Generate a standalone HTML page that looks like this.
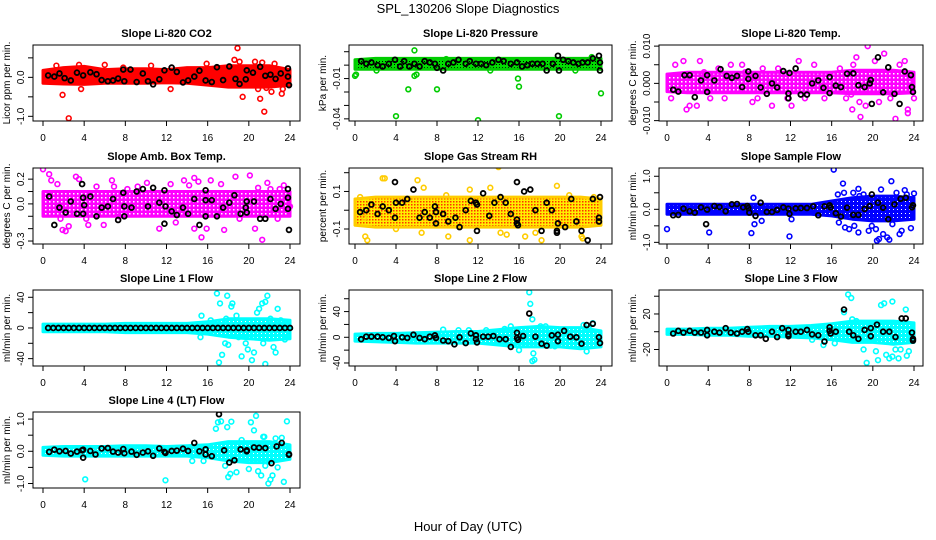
<!DOCTYPE html>
<html><head><meta charset="utf-8">
<style>
html,body{margin:0;padding:0;background:#fff;}
svg{display:block;font-family:"Liberation Sans",Arial,sans-serif;}
</style></head>
<body>
<svg id="chart" width="936" height="540" viewBox="0 0 936 540">
<defs>
<pattern id="rhpat" width="3" height="3" patternUnits="userSpaceOnUse">
<rect width="3" height="3" fill="#ffee00"/><rect x="0" y="0" width="1.5" height="1.5" fill="#ff3300"/>
</pattern>
<pattern id="prpat" width="3" height="3" patternUnits="userSpaceOnUse">
<rect width="3" height="3" fill="#00dd00"/><rect x="1" y="1" width="1" height="1" fill="#000"/>
</pattern>
<pattern id="mgpat" width="4" height="4" patternUnits="userSpaceOnUse">
<rect width="4" height="4" fill="#ff00ff"/><rect x="1" y="1" width="1.5" height="1.5" fill="#fff"/>
</pattern>
<pattern id="blpat" width="4" height="4" patternUnits="userSpaceOnUse">
<rect width="4" height="4" fill="#0000ff"/><rect x="1" y="1" width="1" height="1" fill="#fff"/>
</pattern>
<pattern id="cypat" width="4" height="4" patternUnits="userSpaceOnUse">
<rect width="4" height="4" fill="#00ffff"/><rect x="1" y="1" width="1" height="1" fill="#fff"/>
</pattern>
</defs>
<text x="468" y="13" text-anchor="middle" font-size="13">SPL_130206  Slope Diagnostics</text>
<text x="468" y="531" text-anchor="middle" font-size="13">Hour of Day (UTC)</text>
</svg>
<script>
// ---- shared axis data ----
const hourTicks = [0,4,8,12,16,20,24];
const bandHours = [0,2,4,6,8,10,12,14,16,18,20,22,24];

// ---- Panel 1: CO2 ----
const co2BandLo = [-0.15,-0.17,-0.18,-0.15,-0.15,-0.15,-0.14,-0.15,-0.2,-0.25,-0.25,-0.25,-0.2];
const co2BandHi = [0.18,0.25,0.28,0.2,0.22,0.22,0.2,0.25,0.25,0.3,0.3,0.3,0.2];
const co2OutT = [1.9,2.5,3.7,6,7.8,12.4,15.9,18.9,18.6,19.1,19.4,20.9,21.1,21.5,21.7,22.2,22.5,23.2,23.3,21.3,20.6,1.3,3.5,10.5];
const co2OutV = [-0.45,-1.05,-0.3,0.32,0.25,-0.3,0.35,0.75,0.45,0.4,-0.5,-0.3,-0.55,-0.88,-0.27,-0.37,0.35,-0.42,-0.3,0.38,0.4,0.3,0.32,0.3];
const co2BlkT = [0.5,1.1,1.6,2.1,2.7,3.3,3.9,4.6,5.2,5.7,6.3,6.8,7.3,7.8,7.9,8.5,9.1,9.7,10.2,10.7,11.3,11.8,12.5,13,13.6,14.1,14.7,15.2,15.8,16.4,16.9,17.5,18.1,18.7,19.1,19.7,19.8,20.4,21.1,21.6,22.1,22.6,23.1,23.8,23.9,23.8];
const co2BlkV = [0.05,0.02,0.1,-0.02,-0.08,0.12,0.05,0.13,0.08,-0.07,-0.1,-0.08,-0.03,0.2,-0.1,0.2,-0.12,0.1,-0.1,-0.18,-0.05,0.18,0.25,0.14,-0.13,-0.08,0.02,0.17,-0.08,-0.12,0.26,-0.07,0.28,-0.04,-0.17,-0.05,0.18,0.12,0.27,0.04,0.07,-0.04,0.1,0.23,-0.2,0.02];
const co2Ticks = [-1.0,-0.5,0.0,0.5];
const co2Labels = ["-1.0","","0.0",""];

// ---- Panel 2: Pressure ----
const prBandLo = [-0.003,-0.003,-0.003,-0.003,-0.003,-0.003,-0.003,-0.003,-0.003,-0.003,-0.003,-0.003,-0.003];
const prBandHi = [0.004,0.005,0.005,0.005,0.005,0.005,0.005,0.005,0.005,0.005,0.005,0.005,0.005];
const prOutT = [0,0.1,4,5.2,5.8,5.8,6,8,8.9,12,15.9,16,19.9,23.1,24,2.1,13.2,21.5];
const prOutV = [-0.008,-0.007,-0.038,-0.018,0.011,-0.008,-0.007,-0.018,0.0045,-0.041,-0.01,-0.016,-0.038,0.006,-0.021,-0.004,-0.004,-0.004];
const prBlkT = [0.6,1.1,1.6,2.2,2.7,3.3,3.9,4.4,4.8,5.3,5.8,6.3,6.8,7.3,7.8,8.0,8.6,9.1,9.6,10.1,10.8,11.2,11.8,12.3,12.8,13.4,14,14.5,15.2,15.8,16.3,16.8,17.3,17.8,18.3,18.7,19.3,19.8,19.9,20.3,20.8,21.3,21.8,22.2,22.7,23.2,23.8,23.9,23.9];
const prBlkV = [0.003,0.001,0.002,0,-0.001,0.001,0.004,-0.001,0.003,-0.001,0.001,-0.001,0.003,0.002,0.001,-0.002,-0.004,0.001,0.002,0.004,0.001,0.003,0.001,0.001,0,0.002,0.004,0.003,0.001,0.002,-0.001,0,0.001,0.001,0.001,-0.004,0.001,0.007,-0.004,0.004,0.003,0.002,0.001,0.002,0.002,0.005,0.007,0.002,-0.004];
const prTicks = [-0.04,-0.03,-0.02,-0.01,0.0,0.01];
const prLabels = ["-0.04","","","-0.01","",""];

// ---- Panel 3: Li-820 Temp ----
const tmBandLo = [-0.0022,-0.0025,-0.0025,-0.0025,-0.0025,-0.0025,-0.0025,-0.0025,-0.0025,-0.0028,-0.0028,-0.0028,-0.0025];
const tmBandHi = [0.0025,0.003,0.003,0.003,0.003,0.003,0.003,0.003,0.003,0.0035,0.0035,0.0035,0.003];
const tmOutT = [0.4,0.8,1.6,2.2,1.9,2.9,3.2,3.6,4.2,5,5.6,6.2,7.3,7.6,8.3,8.8,9.3,10.2,10.8,11.7,12.1,12.8,13.4,14.3,15.3,16.8,17.4,18.1,18,18.4,18.7,18.8,19.5,19.3,20.2,21.1,21.7,22.2,22.6,23.1,23.4,23.4,24,20.6,17.9];
const tmOutV = [-0.004,0.005,0.006,-0.006,-0.007,-0.006,0.006,0.003,-0.004,0.004,-0.004,0.005,0.005,0.003,-0.005,-0.004,0.004,-0.006,0.004,-0.004,-0.006,0.006,-0.004,0.005,-0.004,0.004,-0.004,0.005,-0.007,0.007,-0.005,-0.009,0.010,-0.006,0.006,0.008,-0.004,-0.0095,0.005,0.006,-0.007,-0.008,-0.004,-0.005,-0.003];
const tmBlkT = [0.6,1.1,1.7,2.2,2.7,3.3,3.9,3.9,4.6,5.2,5.8,6.3,6.8,7.3,7.9,7.9,8.6,9.1,9.7,10.2,10.7,11.3,11.8,11.8,11.9,12.5,13,13.6,14.1,14.7,15.2,15.8,15.8,16.4,16.9,17.5,18.1,18.6,19.2,19.7,19.8,19.9,20.5,21,21.5,22.1,22.6,23.1,23.7,23.8,23.9];
const tmBlkV = [-0.0017,-0.0022,0.0022,0.0022,-0.0037,0.0008,0.0022,-0.0023,0.0008,0.0038,0.002,0.0015,0.002,-0.001,0.0032,0.0012,0.002,-0.0011,-0.0028,0,-0.0011,0.0033,-0.0027,-0.004,0.0028,0.004,-0.003,-0.003,0,0.0008,-0.0012,0.0017,-0.0026,-0.0006,-0.001,0.0026,0.0027,-0.0005,-0.001,0,0.0009,-0.0055,0.007,-0.0024,0.0043,-0.0028,-0.0055,0.0032,0.0022,-0.001,-0.0023];
const tmTicks = [-0.010,-0.005,0.000,0.005,0.010];
const tmLabels = ["-0.010","","0.000","","0.010"];

// ---- Panel 4: Amb Box Temp ----
const abBandLo = [-0.1,-0.1,-0.1,-0.1,-0.1,-0.1,-0.1,-0.1,-0.1,-0.1,-0.1,-0.1,-0.1];
const abBandHi = [0.1,0.1,0.1,0.1,0.1,0.1,0.1,0.1,0.1,0.1,0.1,0.1,0.1];
const abOutT = [0,0.6,0.8,1.4,1.7,1.9,2.2,2.5,3.2,3.5,4.2,4.4,5.2,5.9,6.7,6.9,7.4,8.2,9.2,10.1,11.3,12.9,13.7,14.2,14.7,14.7,15.1,15.4,15.9,16.3,17.3,17.6,18.7,19.1,20.1,20.6,20.9,21.3,21.8,22.1,23,23.4,24,22.8,12.4];
const abOutV = [0.28,0.24,0.19,0.16,-0.12,-0.21,-0.22,-0.18,0.22,0.2,-0.12,-0.17,0.14,-0.17,0.19,0.14,-0.1,0.12,0.14,0.17,-0.2,-0.15,0.19,0.15,0.21,-0.2,0.18,-0.27,-0.2,0.19,0.16,-0.21,0.22,-0.12,0.23,-0.2,0.13,-0.29,0.17,0.12,0.12,0.15,-0.02,-0.12,0.16];
const abBlkT = [0.6,1.1,1.6,2.2,2.7,3.3,3.8,3.9,3.9,4,4.6,5.2,5.7,6.3,6.8,7.3,7.8,7.9,7.9,8.6,9.1,9.7,10.2,10.7,11.3,11.8,11.8,11.9,12.5,13,13.6,14.1,14.7,15.2,15.8,15.8,15.8,16.4,16.9,17.5,18.1,18.6,19.2,19.7,19.8,19.8,20.5,21.1,21.6,22.1,22.6,23.1,23.8,23.8,23.8,23.9];
const abBlkV = [0.06,-0.17,-0.03,-0.07,0.02,-0.08,0.16,-0.08,0.05,-0.01,0.06,-0.1,-0.03,-0.02,0.04,-0.13,0.09,-0.02,-0.1,-0.03,0.1,0.12,-0.02,0.13,0.01,0.11,-0.16,-0.02,-0.06,-0.09,-0.03,-0.08,0.04,-0.17,0.11,0.03,-0.1,0.03,-0.1,-0.03,0.01,0.07,-0.08,-0.03,0.02,-0.07,0.02,-0.12,-0.12,0.04,-0.04,0,0.12,0.05,-0.04,-0.21];
const abTicks = [-0.3,-0.2,-0.1,0.0,0.1,0.2];
const abLabels = ["-0.3","","","0.0","","0.2"];

// ---- Panel 5: Gas Stream RH ----
const rhBandLo = [-0.08,-0.09,-0.09,-0.09,-0.09,-0.09,-0.09,-0.09,-0.09,-0.09,-0.09,-0.09,-0.08];
const rhBandHi = [0.06,0.07,0.07,0.07,0.07,0.07,0.07,0.07,0.07,0.07,0.07,0.07,0.06];
const rhOutT = [0.5,0.9,1.0,1.2,2.7,2.9,4,6.1,6.5,6.7,8.9,9.1,11.2,11.2,13.2,14,14.2,14.8,16.6,17.6,18.2,19.7,20.9,22.1,22.2,23.3];
const rhOutV = [0.07,-0.04,-0.14,-0.16,0.17,0.17,-0.1,0.16,-0.12,0.12,0.08,-0.14,0.11,-0.16,0.12,0.23,-0.12,-0.13,-0.14,-0.12,-0.16,0.13,0.08,-0.14,-0.15,0.07];
const rhBlkT = [0.5,1.1,1.6,2.2,2.7,3.3,3.9,3.9,4,4.6,5.1,5.7,6.3,6.8,7.3,7.8,7.9,7.9,8.6,9.1,9.8,10.2,10.8,11.3,11.8,11.9,11.9,12.5,13.1,13.6,14.2,14.7,15.2,15.8,15.8,15.8,15.9,16.5,17.1,17.6,18.2,18.7,19.2,19.7,19.8,19.7,20.5,21.1,21.6,22.1,22.7,23.2,23.8,23.8,23.9];
const rhBlkV = [-0.01,0,0.03,-0.02,0.02,0,0.15,-0.04,0.04,0.04,0.06,0.11,-0.04,-0.01,-0.04,0.02,-0.07,-0.01,-0.02,-0.06,-0.04,-0.09,0,0.05,0.04,0.03,-0.11,0.09,-0.03,0.04,0.07,0.04,-0.02,0.15,-0.05,-0.07,-0.08,0.1,0.11,0,-0.11,0.04,0,-0.11,-0.07,-0.12,-0.09,0.06,-0.06,-0.11,-0.16,0.06,-0.04,-0.06,0.07];
const rhTicks = [-0.1,0.0,0.1,0.2];
const rhLabels = ["-0.1","","0.1",""];

// ---- Panel 6: Sample Flow ----
const sfBandLo = [-0.15,-0.15,-0.15,-0.15,-0.15,-0.15,-0.15,-0.15,-0.2,-0.3,-0.35,-0.35,-0.3];
const sfBandHi = [0.15,0.15,0.15,0.15,0.15,0.15,0.15,0.15,0.25,0.35,0.4,0.4,0.35];
const sfOutT = [0,4.1,8.2,8.4,8.5,9.2,11.9,12.1,16.2,16.6,16.7,17.1,17.2,17.3,17.7,18.1,18.2,18.6,18.7,18.6,19.6,19.9,20,20.3,20.4,20.6,20.8,21,21.4,21.6,21.8,21.9,22.3,22.6,22.8,23.1,23.3,23.7,24,19.1];
const sfOutV = [-0.6,-0.7,-0.72,0.35,-0.45,-0.35,-0.82,-0.3,1.2,0.45,-0.4,0.78,0.5,-0.55,-0.6,0.5,-0.5,0.62,0.4,-0.7,-0.65,-0.5,-0.3,-0.6,-0.95,-0.9,0.6,-0.75,-0.85,-0.92,0.85,-0.45,0.5,-0.75,-0.65,0.58,0.45,-0.57,0.48,0.45];
const sfBlkT = [0.6,1.1,1.6,2.2,2.7,3.3,3.8,3.9,4.6,5.1,5.7,6.3,6.8,7.4,7.8,7.9,8,8.6,9.1,9.7,10.2,10.7,11.3,11.8,11.9,12.5,13,13.6,14.2,14.7,15.3,15.8,15.9,16.4,16.9,17.5,18.1,18.6,19.2,19.7,19.9,20.5,21,21.5,22.1,22.7,23.2,23.8,23.9];
const sfBlkV = [-0.18,-0.17,0.02,-0.06,-0.1,0.06,-0.45,-0.01,0.1,0.07,-0.06,0.15,0.16,0.06,0.1,0.04,-0.1,-0.2,0.2,-0.08,-0.08,-0.02,0.06,0.02,-0.14,0.03,0.04,0.04,0.09,-0.18,0.09,0.12,0.06,-0.12,-0.22,0.05,-0.17,-0.17,0.01,0.1,0.45,0.2,0.05,-0.3,0.15,0.32,0.35,0.06,0.12];
const sfTicks = [-1.0,-0.5,0.0,0.5,1.0];
const sfLabels = ["-1.0","","0.0","","1.0"];

// ---- Panel 7: Line 1 Flow ----
const l1BandLo = [-5,-5,-5,-5,-6,-6,-6,-6,-8,-12,-14,-16,-14];
const l1BandHi = [5,5,5,5,6,6,6,6,8,12,12,12,10];
const l1OutT = [15.3,15.4,16.3,16.9,17.1,17.2,17.4,17.7,17.8,17.9,18,18.3,18.4,18.8,19,19.3,19.7,19.9,20.3,20.5,20.8,21,21.3,21.4,21.6,21.6,21.8,22.1,22.4,22.6,22.8,23.1,23.3,23.5,23.7,22.9];
const l1OutV = [-12,16,10,45,-45,32,-35,-20,12,42,-22,28,32,16,-12,-37,-20,-28,-42,-32,20,25,32,-20,34,-47,42,12,-25,-32,25,10,8,-15,-12,5];
const l1BlkT = [0.5,1,1.5,2,2.5,3,3.5,4,4.5,5,5.5,6,6.5,7,7.5,8,8.5,9,9.5,10,10.5,11,11.5,12,12.5,13,13.5,14,14.5,15,15.5,16,16.5,17,17.5,18,18.5,19,19.5,20,20.5,21,21.5,22,22.5,23,23.5,24];
const l1BlkV = [0,0,0,0,0,0,0,0,0,0,0,0,0,0,0,0,0,0,0,0,0,0,0,0,0,0,0,0,0,0,0,0,0,0,0,0,0,0,0,0,0,0,0,0,0,0,0,0];
const l1Ticks = [-40,-20,0,20,40];
const l1Labels = ["-40","","0","","40"];

// ---- Panel 8: Line 2 Flow ----
const l2BandLo = [-6,-7,-8,-9,-9,-9,-9,-12,-15,-15,-15,-18,-15];
const l2BandHi = [5,6,6,7,8,9,9,12,15,17,15,15,10];
const l2OutT = [17,17.1,17.3,17.4,17.3,17.5,15.2,14.6,18.1,18.6,19.1,19.5,22.3,22.8,23.2,8.6,10.1,11.1,12.8,16,22.6];
const l2OutV = [70,52,28,-25,-37,-35,17,13,17,17,-13,-14,19,14,22,12,11,11,11,-20,-22];
const l2BlkT = [0.6,1.1,1.6,2.2,2.7,3.3,3.8,3.9,4.6,5.1,5.7,6.3,6.8,7.3,7.8,7.9,8.6,9.1,9.7,10.2,10.8,11.3,11.8,11.8,11.9,12.5,13,13.5,14.1,14.7,15.2,15.8,15.8,15.9,16.4,17,17.6,18.2,18.7,19.2,19.8,19.8,20.4,21,21.6,22.1,22.6,23.2,23.8,23.9];
const l2BlkV = [-3,1,1,1,0,-1,2,-6,0,-1,4,-1,-3,1,3,-1,-5,-6,-11,0,-9,6,3,-3,-8,1,1,2,-3,-3,-15,7,-1,-4,2,37,1,-10,-13,3,4,-6,10,1,0,-10,19,21,0,-9];
const l2Ticks = [-40,-20,0,20,40,60];
const l2Labels = ["-40","","0","","40",""];

// ---- Panel 9: Line 3 Flow ----
const l3BandLo = [-3,-3,-4,-4,-5,-5,-6,-7,-9,-12,-12,-14,-12];
const l3BandHi = [3,3,4,4,5,6,6,7,9,12,12,12,10];
const l3OutT = [17.6,17.9,18,18.2,18.4,19.1,19.4,20.3,20.5,20.8,21.1,21.3,21.6,21.9,21.9,22.2,22.5,22.7,23.2,23.3,23.5,16.3,16.6,14.1,15.2,23.8,17.2];
const l3OutV = [42,38,14,-9,12,-20,-35,-22,-32,30,32,-26,-30,34,-28,-20,-30,-20,25,-27,-22,-13,-8,-9,-15,-8,22];
const l3BlkT = [0.6,1.1,1.6,2.2,2.7,3.3,3.9,3.9,4.6,5.1,5.7,6.2,6.8,7.3,7.8,7.9,8.6,9.1,9.6,10.2,10.7,11.2,11.8,11.8,11.8,12.5,13,13.6,14.1,14.7,15.3,15.8,15.8,15.9,16.4,17.2,17.7,18.1,18.6,19.2,19.8,19.8,20.4,21,21.6,22.2,22.8,23.2,23.8,23.9,23.9];
const l3BlkV = [-2,1,-1,1,-1,-1,2,-4,0,-1,4,-1,-2,0,3,0,-4,-4,-8,0,-6,4,2,-3,-5,0,0,2,-3,-4,-11,5,1,-2,0,25,0,-4,-8,2,4,-5,8,0,0,-6,15,15,-1,-8,-10];
const l3Ticks = [-20,0,20,40];
const l3Labels = ["-20","","20",""];

// ---- Panel 10: Line 4 (LT) Flow ----
const l4BandLo = [-0.12,-0.15,-0.15,-0.15,-0.15,-0.15,-0.15,-0.15,-0.2,-0.3,-0.35,-0.35,-0.25];
const l4BandHi = [0.12,0.15,0.15,0.15,0.17,0.17,0.15,0.17,0.2,0.3,0.3,0.3,0.2];
const l4OutT = [4.1,11.9,14.5,15.6,16.8,17,17.3,17.7,17.9,18,18.2,18.3,18.8,19.3,20,20.2,20.5,20.7,20.9,21.2,21.4,21.6,21.9,22.1,22.3,22.6,22.8,23.2,23.4,23.7,21.5];
const l4OutV = [-0.87,-0.9,-0.3,-0.3,0.7,0.9,0.93,-0.45,0.75,-0.8,-0.7,0.92,-0.65,0.35,-0.55,0.9,0.65,1.1,-0.62,-0.75,0.45,-0.45,-1.0,-0.88,-0.75,0.4,-0.5,0.42,-0.95,0.93,0.45];
const l4BlkT = [0.6,1.1,1.6,2.2,2.7,3.3,3.8,3.9,3.9,4.6,5.1,5.7,6.3,6.8,7.3,7.8,7.9,8.6,9.1,9.7,10.2,10.7,11.3,11.8,11.9,12.5,13,13.6,14.1,14.7,15.2,15.8,15.8,16.4,17.1,17.6,18.1,18.6,19.2,19.8,19.8,20.5,21,21.6,22.2,22.7,23.2,23.9,23.9];
const l4BlkV = [-0.02,0.05,0,0.01,-0.07,-0.01,0.03,-0.2,0.05,0.01,-0.1,0.09,0.1,-0.01,-0.04,0.07,-0.06,-0.01,-0.11,-0.04,0,-0.14,0.09,-0.02,-0.05,0.01,0.02,0.08,0.01,0.26,0,-0.1,0.06,-0.15,1.15,0.03,-0.35,-0.28,0.06,0,0.03,0.12,0.11,0.1,-0.37,0.15,0.26,-0.09,-0.11];
const l4Ticks = [-1.0,-0.5,0.0,0.5,1.0];
const l4Labels = ["-1.0","","0.0","","1.0"];

const NS = "http://www.w3.org/2000/svg";
const svg = document.getElementById('chart');
function mk(tag, attrs, parent){
  const e = document.createElementNS(NS, tag);
  for (const k in attrs) e.setAttribute(k, attrs[k]);
  (parent||svg).appendChild(e);
  return e;
}

const cols = [[43,290,33,300],[355,601,349,612],[667,914,659,923]];
const rowTop = [45,168,290,412];
const boxH = 76;

function panel(cfg){
  const c = cols[cfg.col], top = rowTop[cfg.row], bot = top + boxH;
  const g = mk('g', {});
  
  
  const xs = h => c[0] + (c[1]-c[0]) * h / 24;
  const ys = v => bot - (v - cfg.ymin) / (cfg.ymax - cfg.ymin) * boxH;
  const clip = 'clip-' + cfg.name;
  const cp = mk('clipPath', {id: clip}, g);
  mk('rect', {x:c[2], y:top, width:c[3]-c[2], height:boxH}, cp);
  const plot = mk('g', {'clip-path':'url(#'+clip+')'}, g);
  
  
  let pts = [];
  for (let i=0;i<bandHours.length;i++) pts.push(xs(bandHours[i]).toFixed(1)+','+ys(cfg.hi[i]).toFixed(1));
  for (let i=bandHours.length-1;i>=0;i--) pts.push(xs(bandHours[i]).toFixed(1)+','+ys(cfg.lo[i]).toFixed(1));
  const band = mk('polygon', {points: pts.join(' '), fill: cfg.fill, stroke: cfg.color, 'stroke-width': 3, 'stroke-linejoin':'round'}, plot);
  
  
  for (let i=0;i<cfg.ot.length;i++){
    const p = mk('circle', {cx: xs(cfg.ot[i]), cy: ys(cfg.ov[i]), r: 2.4, fill:'none', stroke: cfg.color, 'stroke-width': 1.6}, plot);
    
    
  }
  for (let i=0;i<cfg.bt.length;i++){
    const p = mk('circle', {cx: xs(cfg.bt[i]), cy: ys(cfg.bv[i]), r: 2.4, fill:'none', stroke: '#000', 'stroke-width': 1.8}, plot);
    
    
  }
  const box = mk('rect', {x:c[2], y:top, width:c[3]-c[2], height:boxH, fill:'none', stroke:'#000', 'stroke-width':1}, g);
  
  
  const xa = mk('g', {}, g);
  
  
  mk('line', {x1:xs(0), x2:xs(24), y1:bot, y2:bot, stroke:'#000'}, xa);
  hourTicks.forEach(h => {
    mk('line', {x1:xs(h), x2:xs(h), y1:bot, y2:bot+5, stroke:'#000'}, xa);
    const t = mk('text', {x:xs(h), y:bot+20, 'text-anchor':'middle', 'font-size':10}, xa);
    t.textContent = h;
    
    
  });
  const ya = mk('g', {}, g);
  
  
  const y0 = ys(cfg.ticks[0]), y1 = ys(cfg.ticks[cfg.ticks.length-1]);
  mk('line', {x1:c[2], x2:c[2], y1:y0, y2:y1, stroke:'#000'}, ya);
  cfg.ticks.forEach((v,i) => {
    const yy = ys(v);
    mk('line', {x1:c[2]-5, x2:c[2], y1:yy, y2:yy, stroke:'#000'}, ya);
    if (cfg.labels[i]) {
      const lx = c[2]-9;
      const t = mk('text', {x:lx, y:yy, 'text-anchor':'middle', 'font-size':10, transform:'rotate(-90 '+lx+' '+yy+')'}, ya);
      t.textContent = cfg.labels[i];
      
      
    }
  });
  const tx = c[2]-23, ty = top + boxH/2;
  const yt = mk('text', {x:tx, y:ty, 'text-anchor':'middle', 'font-size':10, transform:'rotate(-90 '+tx+' '+ty+')'}, g);
  yt.textContent = cfg.ylab;
  
  
  const tt = mk('text', {x:(c[2]+c[3])/2, y:top-8, 'text-anchor':'middle', 'font-size':11, 'font-weight':'bold'}, g);
  tt.textContent = cfg.title;
  
  
}

panel({name:'panel-co2', row:0, col:0, ymin:-1.12, ymax:0.83, title:'Slope Li-820 CO2', ylab:'Licor ppm per min.', color:'#ff0000', fill:'#ff0000', lo:co2BandLo, hi:co2BandHi, ot:co2OutT, ov:co2OutV, bt:co2BlkT, bv:co2BlkV, ticks:co2Ticks, labels:co2Labels});
panel({name:'panel-pressure', row:0, col:1, ymin:-0.0416, ymax:0.015, title:'Slope Li-820 Pressure', ylab:'kPa per min.', color:'#00cc00', fill:'url(#prpat)', lo:prBandLo, hi:prBandHi, ot:prOutT, ov:prOutV, bt:prBlkT, bv:prBlkV, ticks:prTicks, labels:prLabels});
panel({name:'panel-li820-temp', row:0, col:2, ymin:-0.0101, ymax:0.0103, title:'Slope Li-820 Temp.', ylab:'degrees C per min.', color:'#ff00ff', fill:'url(#mgpat)', lo:tmBandLo, hi:tmBandHi, ot:tmOutT, ov:tmOutV, bt:tmBlkT, bv:tmBlkV, ticks:tmTicks, labels:tmLabels});
panel({name:'panel-amb-box-temp', row:1, col:0, ymin:-0.324, ymax:0.29, title:'Slope Amb. Box Temp.', ylab:'degrees C per min.', color:'#ff00ff', fill:'url(#mgpat)', lo:abBandLo, hi:abBandHi, ot:abOutT, ov:abOutV, bt:abBlkT, bv:abBlkV, ticks:abTicks, labels:abLabels});
panel({name:'panel-gas-stream-rh', row:1, col:1, ymin:-0.18, ymax:0.225, title:'Slope Gas Stream RH', ylab:'percent per min.', color:'#ffcc00', fill:'url(#rhpat)', lo:rhBandLo, hi:rhBandHi, ot:rhOutT, ov:rhOutV, bt:rhBlkT, bv:rhBlkV, ticks:rhTicks, labels:rhLabels});
panel({name:'panel-sample-flow', row:1, col:2, ymin:-1.05, ymax:1.25, title:'Slope Sample Flow', ylab:'ml/min per min.', color:'#0000ff', fill:'url(#blpat)', lo:sfBandLo, hi:sfBandHi, ot:sfOutT, ov:sfOutV, bt:sfBlkT, bv:sfBlkV, ticks:sfTicks, labels:sfLabels});
panel({name:'panel-line1-flow', row:2, col:0, ymin:-49.6, ymax:49.5, title:'Slope Line 1 Flow', ylab:'ml/min per min.', color:'#00ffff', fill:'url(#cypat)', lo:l1BandLo, hi:l1BandHi, ot:l1OutT, ov:l1OutV, bt:l1BlkT, bv:l1BlkV, ticks:l1Ticks, labels:l1Labels});
panel({name:'panel-line2-flow', row:2, col:1, ymin:-44.7, ymax:73.6, title:'Slope Line 2 Flow', ylab:'ml/min per min.', color:'#00ffff', fill:'url(#cypat)', lo:l2BandLo, hi:l2BandHi, ot:l2OutT, ov:l2OutV, bt:l2BlkT, bv:l2BlkV, ticks:l2Ticks, labels:l2Labels});
panel({name:'panel-line3-flow', row:2, col:2, ymin:-38.6, ymax:47, title:'Slope Line 3 Flow', ylab:'ml/min per min.', color:'#00ffff', fill:'url(#cypat)', lo:l3BandLo, hi:l3BandHi, ot:l3OutT, ov:l3OutV, bt:l3BlkT, bv:l3BlkV, ticks:l3Ticks, labels:l3Labels});
panel({name:'panel-line4-flow', row:3, col:0, ymin:-1.14, ymax:1.22, title:'Slope Line 4 (LT) Flow', ylab:'ml/min per min.', color:'#00ffff', fill:'url(#cypat)', lo:l4BandLo, hi:l4BandHi, ot:l4OutT, ov:l4OutV, bt:l4BlkT, bv:l4BlkV, ticks:l4Ticks, labels:l4Labels});
</script>
</body></html>
